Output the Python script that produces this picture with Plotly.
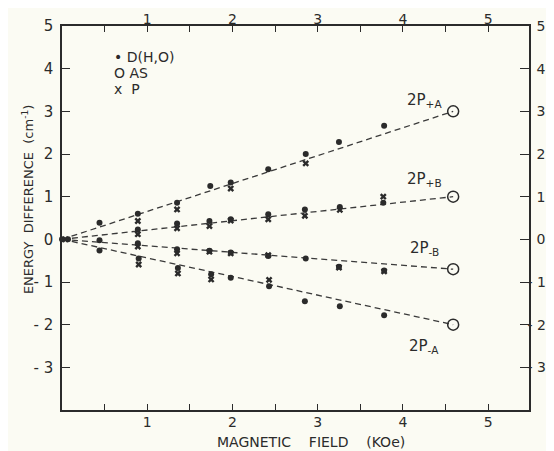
import plotly.graph_objects as go

# ---------------- data ----------------
# D(H2O) points, per branch
d_pa_x = [0.44, 0.89, 1.35, 1.74, 1.98, 2.42, 2.86, 3.25, 3.78]
d_pa_y = [0.39, 0.60, 0.86, 1.25, 1.33, 1.64, 2.00, 2.28, 2.66]
d_pb_x = [0.89, 1.35, 1.73, 1.98, 2.42, 2.85, 3.26, 3.77]
d_pb_y = [0.23, 0.37, 0.43, 0.47, 0.59, 0.70, 0.76, 0.86]
d_mb_x = [0.44, 0.89, 1.35, 1.73, 1.98, 2.42, 2.86, 3.25, 3.78]
d_mb_y = [-0.02, -0.09, -0.23, -0.27, -0.31, -0.39, -0.45, -0.64, -0.73]
d_ma_x = [0.44, 0.90, 1.36, 1.75, 1.98, 2.43, 2.85, 3.26, 3.78]
d_ma_y = [-0.26, -0.45, -0.67, -0.82, -0.90, -1.10, -1.45, -1.57, -1.78]
d_origin_x = [0.0, 0.07]
d_origin_y = [0.0, 0.0]

# P points, per branch
p_pa_x = [0.89, 1.35, 1.98, 2.86]
p_pa_y = [0.43, 0.70, 1.19, 1.78]
p_pb_x = [0.89, 1.35, 1.73, 1.98, 2.42, 2.85, 3.26, 3.77]
p_pb_y = [0.12, 0.26, 0.31, 0.44, 0.47, 0.55, 0.69, 1.00]
p_mb_x = [0.89, 1.35, 1.73, 1.98, 2.42, 3.25, 3.78]
p_mb_y = [-0.17, -0.33, -0.29, -0.33, -0.37, -0.66, -0.75]
p_ma_x = [0.90, 1.36, 1.75, 2.43]
p_ma_y = [-0.59, -0.80, -0.94, -0.95]
p_origin_x = [0.04]
p_origin_y = [0.0]

# AS (calculated) points at the end of each line
as_field = [4.59, 4.59, 4.59, 4.59]
as_energy = [3.0, 1.0, -0.7, -2.0]
branch_labels = ["2P<sub>+A</sub>", "2P<sub>+B</sub>", "2P<sub>-B</sub>", "2P<sub>-A</sub>"]
label_field = [4.25, 4.25, 4.25, 4.25]
label_energy = [3.26, 1.41, -0.21, -2.51]

x_tickvals = [1, 2, 3, 4, 5]
x_ticktext = ["1", "2", "3", "4", "5"]
x_minorvals = [0.5, 1.5, 2.5, 3.5, 4.5]
y_tickvals = [-3, -2, -1, 0, 1, 2, 3, 4, 5]
y_ticktext_left = ["- 3", "- 2", "- 1", "0", "1", "2", "3", "4", "5"]
y_ticktext_right = ["- 3", "- 2", "- 1", "\u00a0\u00a00", "\u00a0\u00a01", "\u00a0\u00a02",
                    "\u00a0\u00a03", "\u00a0\u00a04", "\u00a0\u00a05"]

# ---------------- styling ----------------
INK = "#2b2b2b"
BG = "#fbfbf3"
FONT = "DejaVu Sans"

d_x = d_origin_x + d_pa_x + d_pb_x + d_mb_x + d_ma_x
d_y = d_origin_y + d_pa_y + d_pb_y + d_mb_y + d_ma_y
p_x = p_origin_x + p_pa_x + p_pb_x + p_mb_x + p_ma_x
p_y = p_origin_y + p_pa_y + p_pb_y + p_mb_y + p_ma_y

fig = go.Figure()

# dashed fit lines from the origin to each AS point
for fx, fy in zip(as_field, as_energy):
    fig.add_trace(go.Scatter(
        x=[0, fx], y=[0, fy], mode="lines",
        line=dict(color="#3a3a3a", width=1.3, dash="6px,4px"),
        showlegend=False, hoverinfo="skip"))

fig.add_trace(go.Scatter(
    x=d_x, y=d_y, mode="markers", name="D(H,O)", cliponaxis=False,
    marker=dict(symbol="circle", size=6, color=INK), showlegend=False))
fig.add_trace(go.Scatter(
    x=p_x, y=p_y, mode="markers", name="P", cliponaxis=False,
    marker=dict(symbol="x", size=6, color=INK), showlegend=False))
fig.add_trace(go.Scatter(
    x=as_field, y=as_energy, mode="markers", name="AS", cliponaxis=False,
    marker=dict(symbol="circle-open", size=11, color=INK, line=dict(width=1.5, color=INK)),
    showlegend=False))

# invisible trace to activate the mirror axes
fig.add_trace(go.Scatter(x=[None], y=[None], xaxis="x2", yaxis="y2", mode="markers",
                         showlegend=False, hoverinfo="skip"))

axis_common = dict(
    showgrid=False, zeroline=False, showline=True, linecolor=INK, linewidth=1.5,
    ticks="inside", tickcolor=INK, tickwidth=1.2, automargin=False,
)
x_minor = dict(tickvals=x_minorvals, ticks="inside", ticklen=6, tickcolor=INK,
               tickwidth=1.2, showgrid=False)

# the page body adds an 8px offset, so the figure is 8px smaller than the window
fig.update_layout(
    width=546, height=443,
    margin=dict(l=54, r=25, t=18, b=41, autoexpand=False),
    paper_bgcolor=BG, plot_bgcolor=BG,
    font=dict(family=FONT, color=INK),
    xaxis=dict(range=[0, 5.48], tickvals=x_tickvals, ticktext=x_ticktext,
               ticklen=6, ticklabelstandoff=-2, minor=x_minor,
               tickfont=dict(family=FONT, size=14, color=INK), **axis_common),
    xaxis2=dict(range=[0, 5.48], tickvals=x_tickvals, ticktext=x_ticktext,
                overlaying="x", side="top", anchor="y",
                ticklen=6, ticklabelstandoff=-5, minor=x_minor,
                tickfont=dict(family=FONT, size=14, color=INK), **axis_common),
    yaxis=dict(range=[-4, 5], tickvals=y_tickvals, ticktext=y_ticktext_left,
               ticklen=8, ticklabelstandoff=4,
               tickfont=dict(family=FONT, size=15, color=INK), **axis_common),
    yaxis2=dict(range=[-4, 5], tickvals=y_tickvals, ticktext=y_ticktext_right,
                overlaying="y", side="right", anchor="x",
                ticklen=9, ticklabelstandoff=-6,
                tickfont=dict(family=FONT, size=14, color=INK), **axis_common),
    showlegend=False,
)

annotations = []
# branch labels
for lx, ly, lt in zip(label_field, label_energy, branch_labels):
    annotations.append(dict(x=lx, y=ly, xref="x", yref="y", text=lt, showarrow=False,
                            xanchor="center", yanchor="middle",
                            font=dict(family=FONT, size=15, color=INK)))
# key (legend) drawn as text, as in the original
key_rows = ["\u2022\u00a0D(H,O)", "O\u00a0AS", "x\u00a0\u00a0P"]
key_y = [0.919, 0.878, 0.836]
for ky, kt in zip(key_y, key_rows):
    annotations.append(dict(x=0.107, y=ky, xref="paper", yref="paper", text=kt,
                            showarrow=False, xanchor="left", yanchor="middle",
                            font=dict(family=FONT, size=14, color=INK)))
# axis titles
annotations.append(dict(x=0.533, y=-0.083, xref="paper", yref="paper",
                        text="MAGNETIC\u00a0\u00a0\u00a0\u00a0FIELD\u00a0\u00a0\u00a0\u00a0(KOe)",
                        showarrow=False, xanchor="center", yanchor="middle",
                        font=dict(family=FONT, size=14, color=INK)))
annotations.append(dict(x=-0.073, y=0.549, xref="paper", yref="paper",
                        text="ENERGY\u00a0\u00a0DIFFERENCE\u00a0\u00a0(cm<sup>-1</sup>)", showarrow=False,
                        textangle=-90, xanchor="center", yanchor="middle",
                        font=dict(family=FONT, size=13, color=INK)))
fig.update_layout(annotations=annotations)

fig.write_html("out.html")
